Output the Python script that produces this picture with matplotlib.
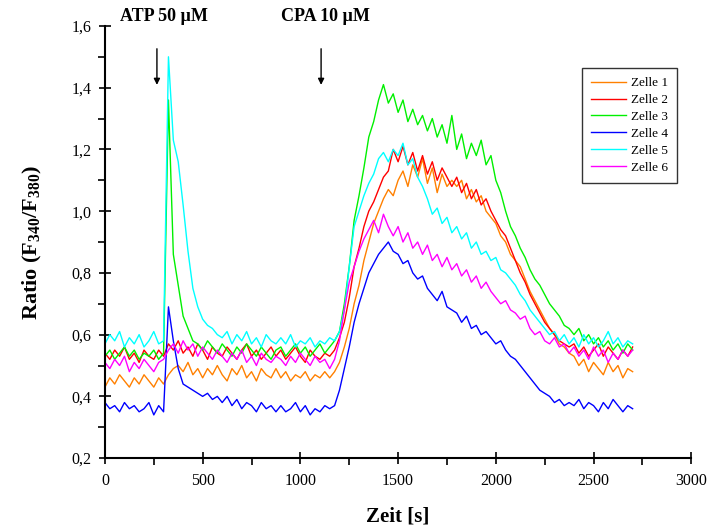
import numpy as np
import matplotlib
matplotlib.use('Agg')
import matplotlib.pyplot as plt
from matplotlib.ticker import MultipleLocator, FuncFormatter

plt.rcParams['font.family'] = ['Liberation Serif', 'DejaVu Serif']
plt.rcParams['mathtext.fontset'] = 'custom'
plt.rcParams['mathtext.rm'] = 'Liberation Serif'
plt.rcParams['mathtext.bf'] = 'Liberation Serif:bold'

zeit = np.arange(0, 2701, 25)

zelle_1 = [0.43, 0.46, 0.44, 0.47, 0.45, 0.43, 0.46, 0.44, 0.47, 0.45, 0.43, 0.46,
           0.44, 0.47, 0.49, 0.50, 0.48, 0.51, 0.47, 0.49, 0.46, 0.49, 0.47, 0.50,
           0.47, 0.45, 0.49, 0.47, 0.50, 0.46, 0.48, 0.45, 0.49, 0.47, 0.46, 0.49,
           0.46, 0.48, 0.45, 0.47, 0.46, 0.48, 0.45, 0.47, 0.46, 0.48, 0.46, 0.48,
           0.51, 0.56, 0.62, 0.70, 0.76, 0.84, 0.90, 0.96, 1.00, 1.04, 1.07, 1.05,
           1.10, 1.13, 1.08, 1.15, 1.11, 1.17, 1.09, 1.14, 1.06, 1.12, 1.08, 1.10,
           1.08, 1.10, 1.04, 1.07, 1.03, 1.05, 1.00, 0.98, 0.96, 0.92, 0.90, 0.86,
           0.84, 0.82, 0.78, 0.74, 0.71, 0.68, 0.65, 0.62, 0.60, 0.57, 0.56, 0.54,
           0.53, 0.50, 0.52, 0.48, 0.51, 0.49, 0.47, 0.51, 0.48, 0.50, 0.46, 0.49,
           0.48]

zelle_2 = [0.54, 0.52, 0.55, 0.53, 0.56, 0.52, 0.54, 0.51, 0.55, 0.53, 0.52, 0.55,
           0.53, 0.57, 0.55, 0.58, 0.54, 0.56, 0.53, 0.57, 0.55, 0.52, 0.56, 0.54,
           0.53, 0.56, 0.54, 0.52, 0.55, 0.57, 0.53, 0.55, 0.52, 0.54, 0.56, 0.53,
           0.55, 0.52, 0.54, 0.56, 0.53, 0.51, 0.55, 0.53, 0.52, 0.54, 0.53, 0.55,
           0.59, 0.64, 0.72, 0.82, 0.88, 0.95, 1.00, 1.03, 1.07, 1.11, 1.13, 1.20,
           1.16, 1.21, 1.15, 1.19, 1.13, 1.18, 1.12, 1.16, 1.10, 1.14, 1.11, 1.08,
           1.11, 1.06, 1.09, 1.04, 1.07, 1.02, 1.04, 1.00, 0.97, 0.94, 0.92, 0.88,
           0.84, 0.80, 0.77, 0.73, 0.70, 0.67, 0.64, 0.62, 0.60, 0.58, 0.57, 0.56,
           0.57, 0.54, 0.56, 0.53, 0.55, 0.57, 0.53, 0.56, 0.54, 0.52, 0.55, 0.53,
           0.56]

zelle_3 = [0.53, 0.55, 0.52, 0.54, 0.56, 0.53, 0.55, 0.52, 0.54, 0.53, 0.55, 0.52,
           0.54, 1.36, 0.86, 0.76, 0.66, 0.62, 0.58, 0.57, 0.55, 0.58, 0.56, 0.54,
           0.57, 0.55, 0.53, 0.56, 0.54, 0.57, 0.55, 0.53, 0.56, 0.54, 0.52, 0.55,
           0.56, 0.53, 0.55, 0.57, 0.54, 0.56, 0.53, 0.55, 0.57, 0.54, 0.56, 0.58,
           0.61, 0.70, 0.82, 0.97, 1.05, 1.14, 1.24, 1.29, 1.36, 1.41, 1.35, 1.38,
           1.32, 1.36, 1.29, 1.33, 1.28, 1.31, 1.26, 1.30, 1.24, 1.28, 1.22, 1.31,
           1.20, 1.25, 1.17, 1.22, 1.18, 1.23, 1.15, 1.18, 1.10, 1.06, 1.00, 0.95,
           0.92, 0.88, 0.85, 0.81, 0.78, 0.76, 0.73, 0.70, 0.68, 0.66, 0.63, 0.62,
           0.60, 0.62, 0.58, 0.60, 0.57, 0.59, 0.56, 0.58, 0.55, 0.57, 0.54, 0.57,
           0.55]

zelle_4 = [0.38, 0.36, 0.37, 0.35, 0.38, 0.36, 0.37, 0.35, 0.36, 0.38, 0.34, 0.37,
           0.35, 0.69, 0.58, 0.49, 0.44, 0.43, 0.42, 0.41, 0.40, 0.41, 0.39, 0.40,
           0.38, 0.40, 0.37, 0.39, 0.36, 0.38, 0.37, 0.35, 0.38, 0.36, 0.37, 0.35,
           0.37, 0.35, 0.36, 0.38, 0.35, 0.37, 0.34, 0.36, 0.35, 0.37, 0.36, 0.37,
           0.42, 0.49, 0.56, 0.64, 0.70, 0.75, 0.80, 0.83, 0.86, 0.88, 0.90, 0.87,
           0.86, 0.83, 0.84, 0.80, 0.78, 0.79, 0.75, 0.73, 0.71, 0.74, 0.69, 0.68,
           0.67, 0.64, 0.66, 0.62, 0.63, 0.60, 0.61, 0.59, 0.57, 0.58, 0.55, 0.53,
           0.52, 0.50, 0.48, 0.46, 0.44, 0.42, 0.41, 0.40, 0.38, 0.39, 0.37, 0.38,
           0.37, 0.39, 0.36, 0.38, 0.37, 0.35, 0.38, 0.36, 0.39, 0.37, 0.35, 0.37,
           0.36]

zelle_5 = [0.57, 0.60, 0.58, 0.61, 0.56, 0.59, 0.57, 0.60, 0.56, 0.58, 0.61, 0.57,
           0.58, 1.50, 1.23, 1.16, 1.02, 0.87, 0.75, 0.69, 0.65, 0.63, 0.62, 0.60,
           0.59, 0.61, 0.57, 0.60, 0.58, 0.61, 0.57, 0.59, 0.56, 0.60, 0.58, 0.57,
           0.59, 0.57, 0.60, 0.56, 0.58, 0.57, 0.59, 0.56, 0.58, 0.57, 0.59, 0.58,
           0.61, 0.68, 0.82, 0.95, 1.00, 1.05, 1.09, 1.12, 1.17, 1.19, 1.16, 1.20,
           1.18, 1.22, 1.15, 1.17, 1.11, 1.08, 1.04, 0.99, 1.01, 0.96, 0.98, 0.93,
           0.95, 0.91, 0.93, 0.88, 0.90, 0.86, 0.87, 0.84, 0.85, 0.81, 0.80, 0.78,
           0.76, 0.73, 0.71, 0.68, 0.66, 0.64, 0.62, 0.60, 0.61, 0.58, 0.60, 0.57,
           0.59, 0.56, 0.60, 0.57, 0.59, 0.56, 0.58, 0.61, 0.57, 0.59, 0.56, 0.58,
           0.57]

zelle_6 = [0.51, 0.49, 0.52, 0.50, 0.53, 0.48, 0.51, 0.49, 0.52, 0.50, 0.48, 0.51,
           0.52, 0.55, 0.57, 0.54, 0.58, 0.55, 0.57, 0.53, 0.56, 0.54, 0.52, 0.55,
           0.53, 0.51, 0.54, 0.52, 0.55, 0.51, 0.53, 0.50, 0.54, 0.52, 0.51, 0.53,
           0.52, 0.50, 0.53, 0.51, 0.54, 0.52, 0.50, 0.53, 0.51, 0.52, 0.49, 0.52,
           0.58, 0.68, 0.77, 0.82, 0.87, 0.91, 0.94, 0.97, 0.93, 0.99, 0.95, 0.92,
           0.95, 0.90, 0.93, 0.88, 0.90, 0.86, 0.89, 0.84, 0.86, 0.82, 0.85, 0.81,
           0.83, 0.79, 0.81, 0.77, 0.79, 0.75, 0.77, 0.74, 0.72, 0.70, 0.71, 0.68,
           0.67, 0.65, 0.66, 0.62, 0.60, 0.61, 0.58, 0.57, 0.59, 0.56, 0.57, 0.54,
           0.56, 0.53, 0.55, 0.52, 0.56, 0.53, 0.55, 0.51, 0.54, 0.52, 0.55, 0.53,
           0.55]

namen = ['Zelle 1', 'Zelle 2', 'Zelle 3', 'Zelle 4', 'Zelle 5', 'Zelle 6']
farben = ['#FF8000', '#FF0000', '#00F000', '#0000FF', '#00FFFF', '#FF00FF']

fig = plt.figure(figsize=(7.09, 5.29), dpi=100)
ax = fig.add_axes([0.148, 0.134, 0.827, 0.817])

for y, name, c in zip([zelle_1, zelle_2, zelle_3, zelle_4, zelle_5, zelle_6], namen, farben):
    ax.plot(zeit, y, color=c, lw=1, label=name)

ax.set_xlim(0, 3000)
ax.set_ylim(0.2, 1.6)
ax.xaxis.set_major_locator(MultipleLocator(500))
ax.xaxis.set_minor_locator(MultipleLocator(250))
ax.yaxis.set_major_locator(MultipleLocator(0.2))
ax.yaxis.set_minor_locator(MultipleLocator(0.1))
ax.yaxis.set_major_formatter(FuncFormatter(lambda v, p: ('%.1f' % v).replace('.', ',')))
ax.tick_params(which='major', direction='inout', length=9, width=1.2, labelsize=11.5)
ax.tick_params(axis='x', which='major', pad=6)
ax.tick_params(axis='y', which='major', pad=5)
ax.tick_params(which='minor', direction='out', length=5, width=1.2)
ax.spines['top'].set_visible(False)
ax.spines['right'].set_visible(False)
ax.spines['left'].set_linewidth(1.5)
ax.spines['bottom'].set_linewidth(1.5)

ax.set_xlabel('Zeit [s]', fontsize=15, fontweight='bold', labelpad=13)
ax.set_ylabel(r'Ratio (F$_{\mathbf{340}}$/F$_{\mathbf{380}}$)', fontsize=16, fontweight='bold', labelpad=20)

# Zugabe ATP / CPA
ax.annotate('', xy=(266, 1.40), xytext=(266, 1.535),
            arrowprops=dict(arrowstyle='-|>', color='black', lw=1, mutation_scale=9),
            annotation_clip=False)
ax.annotate('', xy=(1106, 1.40), xytext=(1106, 1.535),
            arrowprops=dict(arrowstyle='-|>', color='black', lw=1, mutation_scale=9),
            annotation_clip=False)
ax.text(302, 1.629, 'ATP 50 µM', ha='center', va='center', fontsize=13, fontweight='bold', clip_on=False)
ax.text(1126, 1.629, 'CPA 10 µM', ha='center', va='center', fontsize=13, fontweight='bold', clip_on=False)

leg = ax.legend(loc='upper right', bbox_to_anchor=(0.976, 0.903), borderaxespad=0, fontsize=9.5,
                frameon=True, fancybox=False, edgecolor='black', handlelength=2.6,
                labelspacing=0.35, borderpad=0.7, handletextpad=0.4)
leg.get_frame().set_linewidth(1.0)

plt.savefig('out.png', dpi=100)
